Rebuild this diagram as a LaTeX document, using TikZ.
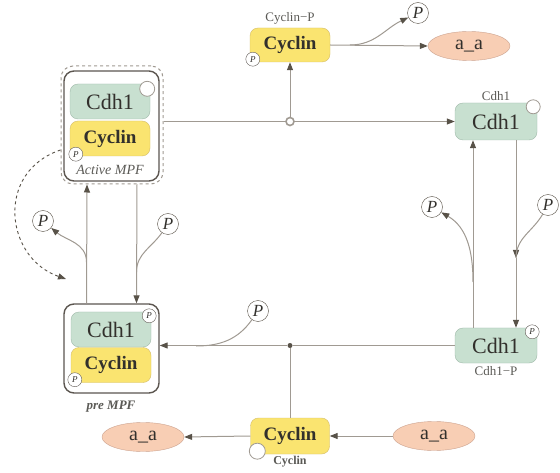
\documentclass[tikz,border=0pt]{standalone}
\usepackage{fontspec}
\setmainfont{Liberation Serif}
\usetikzlibrary{positioning}
\usetikzlibrary{shapes,arrows.meta}
\usetikzlibrary{calc}
\definecolor{color1}{RGB}{200, 224, 208}
\definecolor{color2}{RGB}{160, 186, 170}
\definecolor{color3}{RGB}{250, 228, 112}
\definecolor{color4}{RGB}{214, 190, 104}
\definecolor{color5}{RGB}{248, 206, 180}
\definecolor{color6}{RGB}{204, 162, 142}
\definecolor{linecol}{RGB}{160, 154, 146}
\definecolor{tipcol}{RGB}{88, 82, 72}
\definecolor{framecol}{RGB}{92, 86, 80}
\definecolor{textcol}{RGB}{50, 48, 44}
\tikzstyle{line} = [draw=linecol, line width=1pt, -{Triangle[length=8pt,width=6pt,color=tipcol]}]
\tikzstyle{term} = [draw=linecol, line width=1pt]
\tikzstyle{dline} = [draw=tipcol, line width=0.9pt, dashed, -{Triangle[length=8pt,width=6pt,color=tipcol]}]
\tikzstyle{cdh} = [draw=color2, fill=color1, rounded corners=8pt, minimum width=80pt, minimum height=35pt, text=textcol, font=\fontsize{22}{22}\selectfont]
\tikzstyle{cyc} = [draw=color4, fill=color3, rounded corners=8pt, minimum width=80pt, minimum height=35pt, text=textcol, font=\bfseries\fontsize{19}{19}\selectfont]
\tikzstyle{aa} = [ellipse, draw=color6, fill=color5, minimum width=82pt, minimum height=29pt, inner sep=0pt, text=textcol, font=\fontsize{20}{20}\selectfont]
\tikzstyle{pcirc} = [circle, draw=tipcol, fill=white, inner sep=0pt, minimum size=21pt, text=textcol, font=\itshape\fontsize{17}{17}\selectfont]
\tikzstyle{pcorner} = [circle, draw=framecol, fill=white, inner sep=0pt, minimum size=14pt, text=textcol, font=\itshape\fontsize{9}{9}\selectfont]
\tikzstyle{site} = [circle, draw=linecol, fill=white, line width=0.8pt, inner sep=0pt, minimum size=15pt]
\tikzstyle{frame} = [draw=framecol, line width=1.4pt, rounded corners=10pt]
\tikzstyle{dframe} = [draw=linecol, line width=1pt, dashed, rounded corners=12pt]
\tikzstyle{lbl} = [text=textcol!80, font=\fontsize{13}{13}\selectfont]

\begin{document}
\begin{tikzpicture}[x=1pt, y=-1pt]
  \useasboundingbox[fill=white] (0,0) rectangle (560,473);

  % ============================ Active MPF ====================================

  \node[dframe, minimum width=102pt, minimum height=118pt] (amo) at (112,125) {};
  \node[frame, minimum width=95pt, minimum height=110pt] (am) at (111.5,126) {};
  \node[cdh] (amcdh) at (110,101.5) {Cdh1};
  \node[cyc] (amcyc) at (110,138.5) {Cyclin};
  \node[site] (amsite) at ([xshift=-3pt, yshift=-5pt]amcdh.north east) {};
  \node[pcorner] (amp) at ([xshift=6pt, yshift=2pt]amcyc.south west) {P};
  \node[lbl, font=\itshape\fontsize{14}{14}\selectfont] (amlab) at (110,170) {Active MPF};

  % ============================== pre MPF =====================================

  \node[frame, minimum width=95pt, minimum height=89pt] (pm) at (111.5,348.5) {};
  \node[cdh] (pmcdh) at (111,329.5) {Cdh1};
  \node[cyc] (pmcyc) at (111,365) {Cyclin};
  \node[pcorner] (pmp1) at ([xshift=-2pt, yshift=-4pt]pmcdh.north east) {P};
  \node[pcorner] (pmp2) at ([xshift=4pt, yshift=3pt]pmcyc.south west) {P};
  \node[lbl, font=\bfseries\itshape\fontsize{13}{13}\selectfont] (pmlab) at (111,407) {pre MPF};

  % ============================ Cyclin / Cdh1 =================================

  \node[cyc, minimum height=34pt] (cycp) at (290,45) {Cyclin};
  \node[lbl, above=0pt of cycp] {Cyclin−P};
  \node[pcorner] (cycpp) at ([xshift=3pt, yshift=3pt]cycp.south west) {P};
  \node[aa] (aa1) at (469,46) {a\_a};

  \node[cdh, minimum width=82pt, minimum height=37pt] (cdhu) at (496,121.5) {Cdh1};
  \node[lbl, above=-1pt of cdhu] {Cdh1};
  \node[site, minimum size=14pt] (cdhusite) at ([xshift=-4pt, yshift=-4pt]cdhu.north east) {};

  \node[cdh, minimum width=82pt] (cdhp) at (496,345.5) {Cdh1};
  \node[lbl, below=0pt of cdhp] {Cdh1−P};
  \node[pcorner] (cdhpp) at ([xshift=-5pt, yshift=-4pt]cdhp.north east) {P};

  \node[cyc, minimum width=79pt, minimum height=36pt] (cycb) at (290,436) {Cyclin};
  \node[lbl, below=-2pt of cycb, font=\bfseries\fontsize{12}{12}\selectfont] {Cyclin};
  \node[site, minimum size=16pt] (cycbsite) at ([xshift=7pt, yshift=3pt]cycb.south west) {};
  \node[aa] (aa2) at (143,437) {a\_a};
  \node[aa] (aa3) at (434,436) {a\_a};

  % ============================== Phosphates ==================================

  \node[pcirc] (p1) at (418,13) {P};
  \node[pcirc] (p2) at (43,221) {P};
  \node[pcirc] (p3) at (168,224) {P};
  \node[pcirc] (p4) at (548,205) {P};
  \node[pcirc] (p5) at (432,207) {P};
  \node[pcirc] (p6) at (258,311) {P};

  % ============================= Connect ======================================
  \node[circle, draw=linecol, line width=1.6pt, fill=white, inner sep=0pt, minimum size=8pt] (h1) at (cycp |- cdhu) {};
  \node[circle, fill=tipcol, inner sep=0pt, minimum size=5pt] (d1) at (cycb |- cdhp) {};
  \coordinate (b1) at (350,45);
  \coordinate (j3) at (516,258);
  \coordinate (j4) at (473,282);
  \coordinate (j5) at (196,346);
  \coordinate (j6) at (86.5,262);
  \coordinate (j7) at (136.5,272);
  \coordinate (j8) at (66,279);

  \path[term] (amo.east |- h1) -- (h1);
  \path[line] (h1) -- (cdhu.west);
  \path[line] (h1) -- (cycp.south);
  \path[line] (cycp.east) -- (aa1.west);
  \path[line] (b1) to[out=0, in=205] (p1);

  \path[line] ([xshift=20pt]cdhu.south) -- (j3);
  \path[line] (j3) -- ([xshift=20pt]cdhp.north);
  \path[term] (p4) to[out=240, in=90] (j3);
  \path[line] ([xshift=-23pt]cdhp.north) -- ([xshift=-23pt]cdhu.south);
  \path[line] (j4) to[out=90, in=-30] (p5);

  \path[term] (cdhp.west) -- (d1);
  \path[line] (d1) -- (pm.east |- d1);
  \path[term] (d1) -- (cycb.north);
  \path[term] (p6) to[out=235, in=0] (j5);

  \path[line] ([xshift=-25pt]pm.north) -- ([xshift=-25pt]amo.south);
  \path[line] (j6) to[out=90, in=-40] (p2);
  \path[line] ([xshift=25pt]amo.south) -- ([xshift=25pt]pm.north);
  \path[term] (p3) to[out=235, in=90] (j7);
  \path[dline] ([yshift=-25pt]amo.west) .. controls (-5,172) and (5,258) .. (j8);

  \path[line] (aa3.west) -- (cycb.east);
  \path[line] (cycb.west) -- (aa2.east);

\end{tikzpicture}
\end{document}
